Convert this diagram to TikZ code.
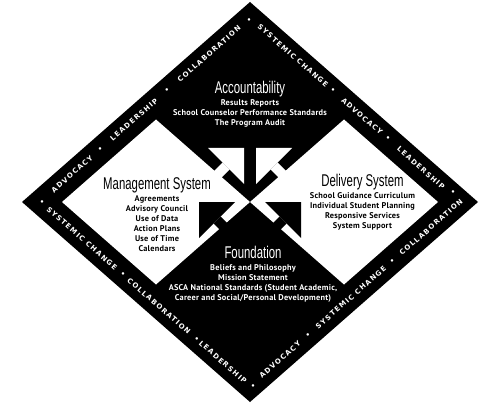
\documentclass[tikz,border=0pt]{standalone}
\usepackage{fontspec}
\setmainfont{PT Sans}[LetterSpace=3]
\newfontfamily\headfont{Liberation Sans}[FakeStretch=0.67]
\newfontfamily\bandfont{DejaVu Sans}[LetterSpace=18]
\usetikzlibrary{calc}

\begin{document}
\begin{tikzpicture}[x=1pt,y=-1pt]
\tikzstyle{every node}=[inner sep=0pt, outer sep=0pt]
\tikzstyle{heading}=[anchor=base, font=\headfont\fontsize{17}{17}\selectfont]
\tikzstyle{items}=[anchor=base, align=center, font=\bfseries\fontsize{8.3}{10}\selectfont]
\tikzstyle{bandword}=[text=white, font=\bandfont\bfseries\fontsize{7}{8}\selectfont]
\useasboundingbox (0,0) rectangle (500,406);
% outer band
\coordinate (n) at (250,2);
\coordinate (e) at (478,202);
\coordinate (s) at (250,402);
\coordinate (w) at (22,202);
\coordinate (c) at (250,202);
\fill (n) -- (e) -- (s) -- (w) -- cycle;
% centre line of the band
\coordinate (bn) at (250,18);
\coordinate (be) at (459.8,202);
\coordinate (bs) at (250,386);
\coordinate (bw) at (40.2,202);
% white quarters
\fill[white] (c) -- (156,119.5) -- (62,202) -- (156,284.5) -- cycle;
\fill[white] (c) -- (344,119.5) -- (438,202) -- (344,284.5) -- cycle;
% arrows up to accountability
\fill[white] (244,148) -- (244,184) -- (208,148) -- cycle;
\fill[white] (229.5,169.5) -- (222.5,162.5) -- (204.8,180.2) -- (211.8,187.2) -- cycle;
\fill[white] (256,148) -- (256,184) -- (292,148) -- cycle;
\fill[white] (270.5,169.5) -- (277.5,162.5) -- (295.2,180.2) -- (288.2,187.2) -- cycle;
% arrows out of the foundation
\fill (199,202) -- (235,202) -- (199,238) -- cycle;
\fill (220.5,216.5) -- (213.5,223.5) -- (231.2,241.2) -- (238.2,234.2) -- cycle;
\fill (301,202) -- (265,202) -- (301,238) -- cycle;
\fill (279.5,216.5) -- (286.5,223.5) -- (268.8,241.2) -- (261.8,234.2) -- cycle;
% headings (items are placed at the baseline of their last line)
\node[heading, text=white] (acc) at (250,93.5) {Accountability};
\node[items, text=white] (accitems) at (250,125.7) {Results Reports\\School Counselor Performance Standards\\The Program Audit};
\node[heading] (man) at (157,189.3) {Management System};
\node[items] (manitems) at (157,251.7) {Agreements\\Advisory Council\\Use of Data\\Action Plans\\Use of Time\\Calendars};
\node[heading] (del) at (362.5,186.7) {Delivery System};
\node[items] (delitems) at (362.5,228.7) {School Guidance Curriculum\\Individual Student Planning\\Responsive Services\\System Support};
\node[heading, text=white] (fou) at (253,258.3) {Foundation};
\node[items, text=white] (fouitems) at (253,300.5) {Beliefs and Philosophy\\Mission Statement\\ASCA National Standards (Student Academic,\\Career and Social/Personal Development)};
% band, upper left
\node[bandword] (vw) at (42,203) {•};
\node[bandword, rotate=41.25] (ul1) at ($(bw)!0.152!(bn)$) {ADVOCACY};
\node[bandword] (ulb1) at ($(bw)!0.285!(bn)$) {•};
\node[bandword, rotate=41.25] (ul2) at ($(bw)!0.447!(bn)$) {LEADERSHIP};
\node[bandword] (ulb2) at ($(bw)!0.604!(bn)$) {•};
\node[bandword, rotate=41.25] (ul3) at ($(bw)!0.805!(bn)$) {COLLABORATION};
% band, upper right
\node[bandword] (vn) at (249,21) {•};
\node[bandword, rotate=-41.25] (ur1) at ($(bn)!0.205!(be)$) {SYSTEMIC CHANGE};
\node[bandword] (urb1) at ($(bn)!0.396!(be)$) {•};
\node[bandword, rotate=-41.25] (ur2) at ($(bn)!0.534!(be)$) {ADVOCACY};
\node[bandword] (urb2) at ($(bn)!0.658!(be)$) {•};
\node[bandword, rotate=-41.25] (ur3) at ($(bn)!0.815!(be)$) {LEADERSHIP};
% band, lower right
\node[bandword] (ve) at (453,193) {•};
\node[bandword, rotate=41.25] (lr1) at ($(bs)!0.143!(be)$) {ADVOCACY};
\node[bandword] (lrb1) at ($(bs)!0.276!(be)$) {•};
\node[bandword, rotate=41.25] (lr2) at ($(bs)!0.481!(be)$) {SYSTEMIC CHANGE};
\node[bandword] (lrb2) at ($(bs)!0.677!(be)$) {•};
\node[bandword, rotate=41.25] (lr3) at ($(bs)!0.863!(be)$) {COLLABORATION};
% band, lower left
\node[bandword] (vs) at (253,387) {•};
\node[bandword, rotate=-41.25] (ll1) at ($(bw)!0.199!(bs)$) {SYSTEMIC CHANGE};
\node[bandword] (llb1) at ($(bw)!0.395!(bs)$) {•};
\node[bandword, rotate=-41.25] (ll2) at ($(bw)!0.566!(bs)$) {COLLABORATION};
\node[bandword] (llb2) at ($(bw)!0.747!(bs)$) {•};
\node[bandword, rotate=-41.25] (ll3) at ($(bw)!0.871!(bs)$) {LEADERSHIP};
\end{tikzpicture}
\end{document}
